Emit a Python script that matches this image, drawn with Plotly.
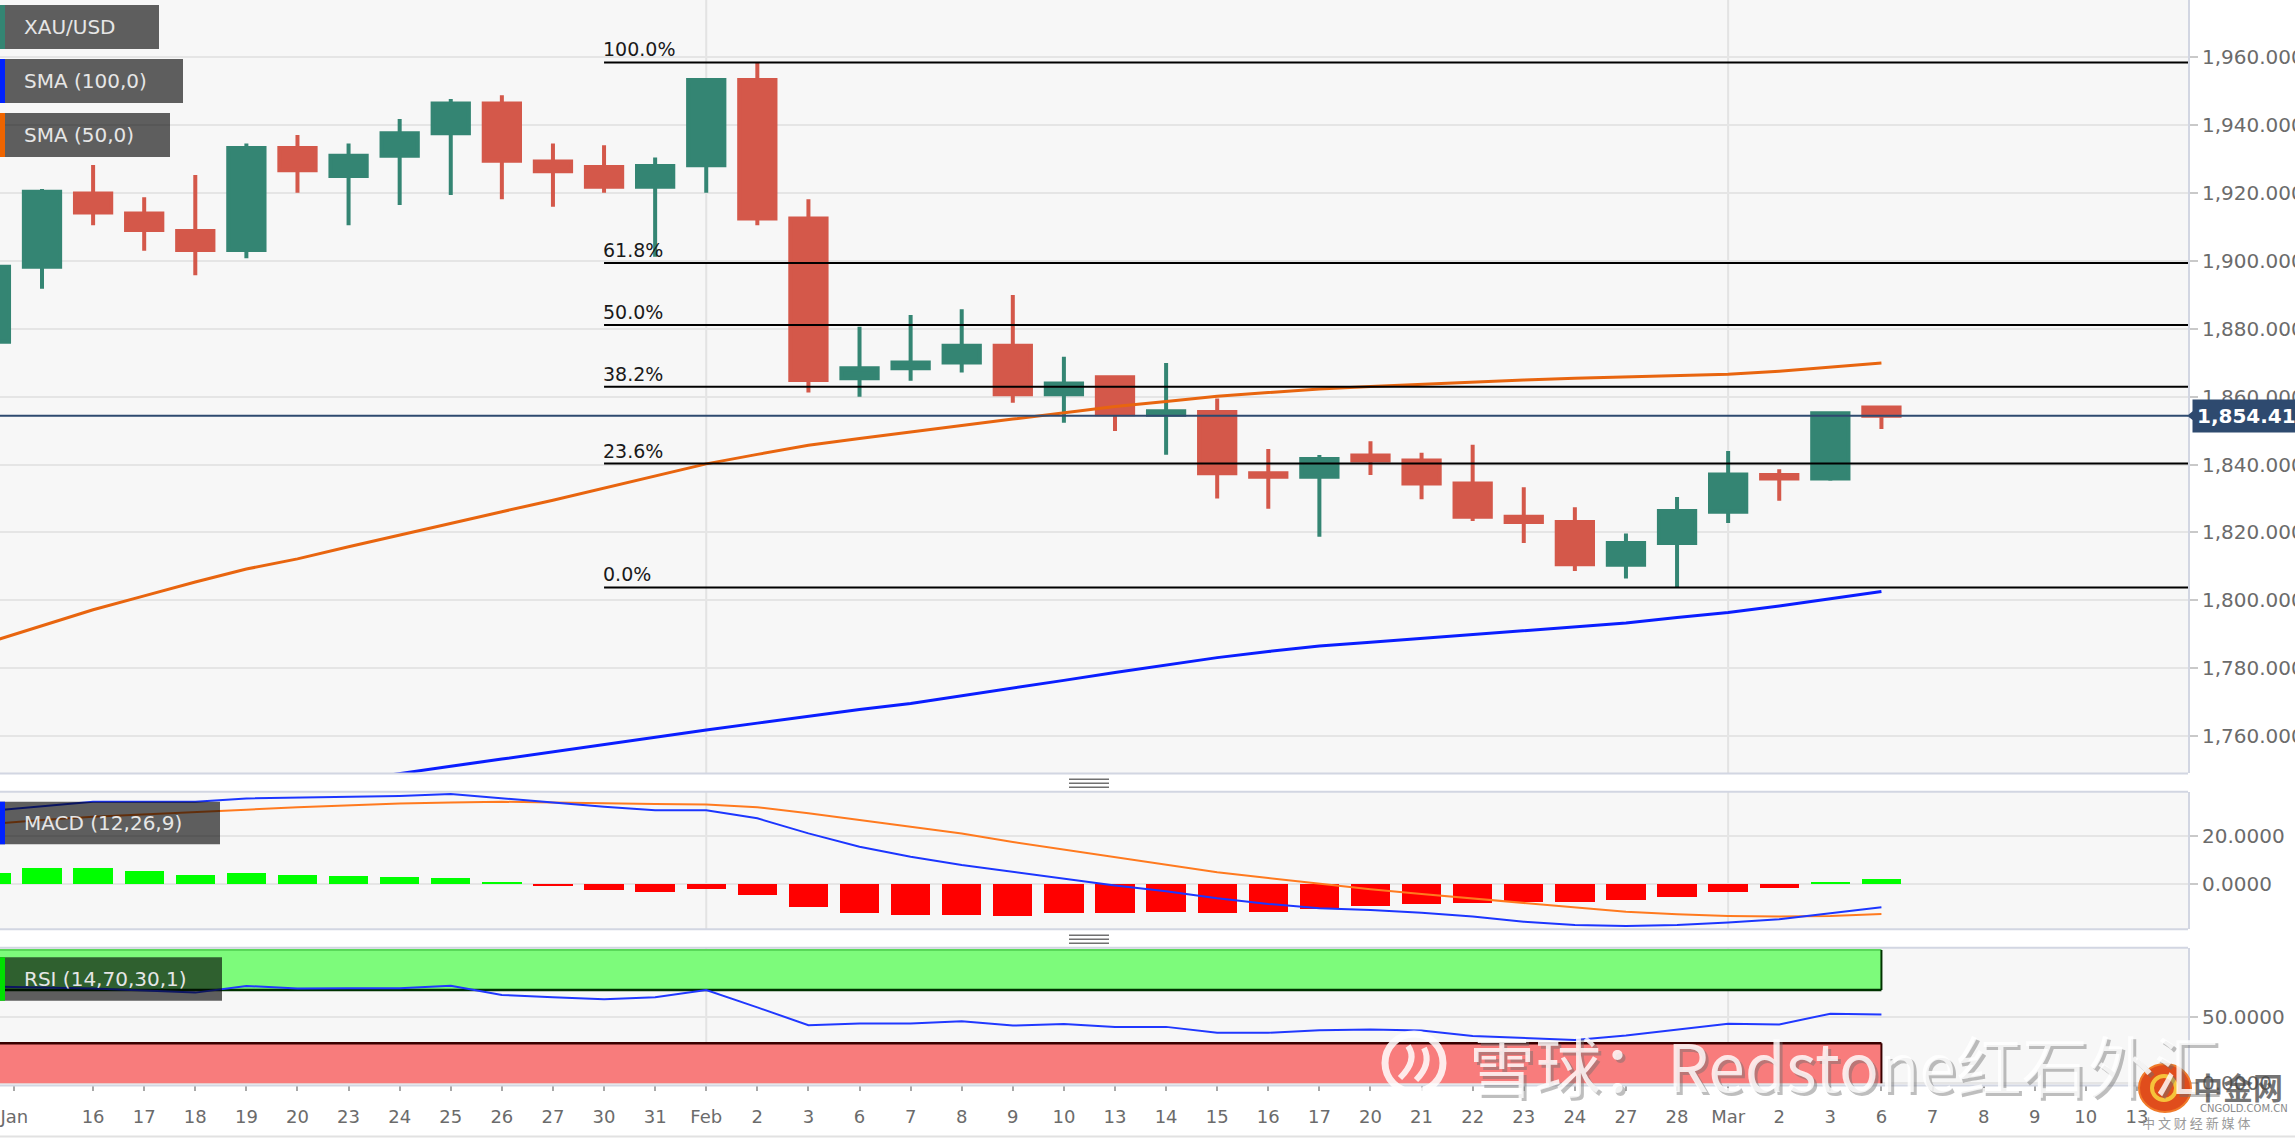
import plotly.graph_objects as go
import numpy as np

W, H = 2295, 1138

# ---------------- data ----------------
sessions = [
    "2023-01-12", "2023-01-13", "2023-01-16", "2023-01-17", "2023-01-18", "2023-01-19", "2023-01-20",
    "2023-01-23", "2023-01-24", "2023-01-25", "2023-01-26", "2023-01-27", "2023-01-30", "2023-01-31",
    "2023-02-01", "2023-02-02", "2023-02-03", "2023-02-06", "2023-02-07", "2023-02-08", "2023-02-09",
    "2023-02-10", "2023-02-13", "2023-02-14", "2023-02-15", "2023-02-16", "2023-02-17", "2023-02-20",
    "2023-02-21", "2023-02-22", "2023-02-23", "2023-02-24", "2023-02-27", "2023-02-28", "2023-03-01",
    "2023-03-02", "2023-03-03", "2023-03-06", "2023-03-07", "2023-03-08", "2023-03-09", "2023-03-10",
    "2023-03-13",
]

open_ = [1876.2, 1898.3, 1919.9, 1914.0, 1908.8, 1903.2, 1933.3, 1925.0, 1931.0, 1937.6,
         1946.4, 1929.3, 1927.7, 1921.9, 1928.2, 1953.3, 1912.5, 1865.4, 1868.4, 1870.1,
         1875.0, 1860.7, 1865.7, 1854.7, 1855.5, 1837.4, 1836.4, 1842.7, 1841.2, 1834.4,
         1824.6, 1823.1, 1810.5, 1816.9, 1826.1, 1836.9, 1835.9, 1856.8]
high = [1901.0, 1921.2, 1928.3, 1918.8, 1925.3, 1934.6, 1937.1, 1934.6, 1941.8, 1947.7,
        1948.8, 1934.6, 1934.1, 1930.5, 1953.5, 1958.5, 1918.2, 1880.6, 1884.1, 1885.8,
        1890.0, 1871.8, 1865.9, 1869.9, 1859.5, 1844.6, 1842.8, 1846.9, 1843.5, 1845.8,
        1833.3, 1827.4, 1819.7, 1830.4, 1844.0, 1838.6, 1855.7, 1857.0]
low = [1867.0, 1891.8, 1910.5, 1903.0, 1895.8, 1900.8, 1920.1, 1910.5, 1916.5, 1919.4,
       1918.2, 1916.0, 1920.1, 1901.2, 1920.1, 1910.5, 1861.2, 1860.0, 1864.7, 1867.1,
       1858.2, 1852.3, 1849.9, 1842.9, 1830.0, 1827.0, 1818.7, 1836.9, 1829.8, 1823.4,
       1816.9, 1808.6, 1806.4, 1803.8, 1822.8, 1829.3, 1835.2, 1850.5]
close = [1898.3, 1920.4, 1914.3, 1909.1, 1903.2, 1933.3, 1926.7, 1931.0, 1937.6, 1946.4,
         1929.5, 1926.4, 1921.9, 1928.0, 1953.3, 1912.5, 1864.9, 1868.4, 1870.1, 1875.0,
         1860.7, 1863.9, 1854.8, 1855.7, 1837.4, 1836.4, 1841.6, 1841.2, 1834.4, 1824.6,
         1823.1, 1810.6, 1816.9, 1826.3, 1837.1, 1835.9, 1855.1, 1854.41]

sma50 = [1787.8, 1792.5, 1797.2, 1801.3, 1805.4, 1809.2, 1812.2, 1815.8, 1819.3, 1822.7,
         1826.1, 1829.5, 1833.0, 1836.6, 1840.2, 1843.0, 1845.7, 1847.7, 1849.7, 1851.5,
         1853.4, 1855.3, 1857.1, 1858.6, 1860.1, 1861.2, 1862.3, 1863.0, 1863.7, 1864.3,
         1864.9, 1865.4, 1865.8, 1866.2, 1866.6, 1867.5, 1868.6, 1869.9]
sma100 = [1731.5, 1733.7, 1735.9, 1738.0, 1740.2, 1742.4, 1744.5, 1746.7, 1748.9, 1751.1,
          1753.2, 1755.4, 1757.5, 1759.7, 1761.8, 1763.8, 1765.9, 1767.8, 1769.6, 1771.8,
          1774.1, 1776.4, 1778.7, 1781.0, 1783.1, 1784.9, 1786.5, 1787.6, 1788.7, 1789.9,
          1791.1, 1792.1, 1793.3, 1794.9, 1796.4, 1798.3, 1800.4, 1802.6]

macd_line = [30.5, 32.4, 34.3, 34.3, 34.3, 35.7, 36.1, 36.4, 36.7, 37.5,
             35.7, 33.9, 32.2, 30.8, 30.8, 27.4, 21.1, 15.5, 11.4, 7.9,
             5.0, 2.1, -0.6, -3.0, -5.9, -8.3, -10.1, -10.8, -12.0, -13.6,
             -15.7, -17.1, -17.5, -17.1, -16.1, -14.7, -12.2, -9.7]
macd_signal = [25.0, 26.7, 28.0, 29.1, 30.1, 31.0, 32.0, 32.8, 33.6, 34.0,
               34.3, 34.0, 33.6, 33.4, 33.2, 32.0, 29.5, 26.7, 23.9, 21.1,
               17.5, 14.3, 11.1, 8.0, 4.9, 2.5, 0.0, -2.2, -4.2, -6.0,
               -7.8, -9.5, -11.6, -12.6, -13.3, -13.6, -13.3, -12.5]
macd_hist = [4.7, 6.8, 6.6, 5.5, 3.8, 4.5, 3.8, 3.4, 2.9, 2.4,
             1.0, -0.9, -2.5, -3.4, -2.1, -4.6, -9.5, -12.0, -12.9, -12.9,
             -13.2, -12.2, -12.2, -11.5, -12.0, -11.5, -10.5, -9.2, -8.3, -8.0,
             -7.4, -7.4, -6.7, -5.3, -3.2, -1.8, 1.0, 2.1]

rsi = [72.5, 71.8, 71.0, 69.5, 68.0, 73.0, 71.0, 71.2, 71.3, 73.2,
       66.3, 64.5, 63.1, 64.6, 70.0, 56.9, 43.6, 44.8, 44.8, 46.5,
       43.3, 44.5, 42.3, 42.3, 37.9, 37.9, 39.8, 40.4, 39.5, 35.4,
       34.2, 32.5, 35.9, 40.4, 44.6, 44.1, 52.2, 51.5]

tick_labels = ["Jan", "16", "17", "18", "19", "20", "23", "24", "25", "26", "27", "30", "31",
               "Feb", "2", "3", "6", "7", "8", "9", "10", "13", "14", "15", "16", "17", "20",
               "21", "22", "23", "24", "27", "28", "Mar", "2", "3", "6", "7", "8", "9", "10", "13"]

main_ticks = [1760, 1780, 1800, 1820, 1840, 1860, 1880, 1900, 1920, 1940, 1960]
macd_ticks = [0, 20]
rsi_ticks = [0, 50]
fib_ratios = [0.0, 0.236, 0.382, 0.5, 0.618, 1.0]
fib_anchor = "2023-01-30"
rsi_upper, rsi_lower = 70, 30

# ---------------- helpers / styles ----------------
def px(x):
    return x / W

def py(y):
    return 1 - y / H

FONT = "DejaVu Sans, Liberation Sans, Arial, sans-serif"
GREEN = "#348573"
RED = "#d4584a"
ORANGE = "#e8650f"
BLUE = "#0a1eff"
NAVY = "#2e4a6f"
BORDER = "#d2d6e2"
GRID = "#e5e5e5"

n = len(close)
xk = np.arange(n)
X_RANGE = [0.178, 43.0]
tickvals = [0.46] + list(range(2, len(sessions)))

fig = go.Figure()

fig.add_trace(go.Candlestick(
    x=xk, open=open_, high=high, low=low, close=close,
    increasing=dict(line=dict(color=GREEN, width=4), fillcolor=GREEN),
    decreasing=dict(line=dict(color=RED, width=4), fillcolor=RED),
    whiskerwidth=0, xaxis="x", yaxis="y", showlegend=False, hoverinfo="skip",
))
fig.add_trace(go.Scatter(x=xk, y=sma50, mode="lines", line=dict(color=ORANGE, width=3),
                         xaxis="x", yaxis="y", showlegend=False, hoverinfo="skip"))
fig.add_trace(go.Scatter(x=xk, y=sma100, mode="lines", line=dict(color=BLUE, width=3),
                         xaxis="x", yaxis="y", showlegend=False, hoverinfo="skip"))

hist_colors = ["#00ff00" if v >= 0 else "#ff0000" for v in macd_hist]
fig.add_trace(go.Bar(x=xk, y=macd_hist, width=0.77, marker=dict(color=hist_colors, line=dict(width=0)),
                     xaxis="x", yaxis="y2", showlegend=False, hoverinfo="skip"))
fig.add_trace(go.Scatter(x=xk, y=macd_signal, mode="lines", line=dict(color="#ff7a1f", width=2),
                         xaxis="x", yaxis="y2", showlegend=False, hoverinfo="skip"))
fig.add_trace(go.Scatter(x=xk, y=macd_line, mode="lines", line=dict(color="#1c36ff", width=2),
                         xaxis="x", yaxis="y2", showlegend=False, hoverinfo="skip"))
fig.add_trace(go.Scatter(x=xk, y=rsi, mode="lines", line=dict(color="#2038ff", width=2),
                         xaxis="x", yaxis="y3", showlegend=False, hoverinfo="skip"))

shapes = []
annotations = []

# Fibonacci retracement
swing_hi, swing_lo = max(high), min(low)
fib_x0 = sessions.index(fib_anchor)
for r in fib_ratios:
    lvl = swing_lo + r * (swing_hi - swing_lo)
    shapes.append(dict(type="line", xref="x", yref="y", x0=fib_x0, x1=X_RANGE[1], y0=lvl, y1=lvl,
                       line=dict(color="#000000", width=2), layer="above"))
    annotations.append(dict(x=fib_x0, y=lvl, xref="x", yref="y", xanchor="left", yanchor="bottom",
                            text=f"{r * 100:.1f}%", showarrow=False, xshift=-3,
                            font=dict(family=FONT, size=19, color="#1a1a1a")))

# current price line + label
last = close[-1]
shapes.append(dict(type="line", xref="x", yref="y", x0=X_RANGE[0], x1=X_RANGE[1], y0=last, y1=last,
                   line=dict(color=NAVY, width=2), layer="above"))
shapes.append(dict(type="path", xref="paper", yref="y",
                   path=f"M {px(2187)},{last} L {px(2194)},{last + 1.6} L {px(2194)},{last - 1.6} Z",
                   fillcolor=NAVY, line=dict(width=0), layer="above"))
annotations.append(dict(x=px(2192), y=last, xref="paper", yref="y", xanchor="left", yanchor="middle",
                        text=f"<b>{last:,.3f}</b>", showarrow=False, bgcolor=NAVY, borderpad=4,
                        font=dict(family=FONT, size=20, color="#ffffff")))

# month gridlines in each panel
panels = [(0, 773), (791.7, 929.3), (947.7, 1085)]
for m in ["2023-02-01", "2023-03-01"]:
    mk = sessions.index(m)
    for (t, b) in panels:
        shapes.append(dict(type="line", xref="x", yref="paper", x0=mk, x1=mk, y0=py(b), y1=py(t),
                           line=dict(color="#e3e3e3", width=2), layer="below"))

# RSI zones
shapes.append(dict(type="rect", xref="x", yref="y3", x0=X_RANGE[0], x1=n - 1, y0=rsi_upper, y1=100,
                   fillcolor="#7dfb7b", line=dict(width=0), layer="between"))
shapes.append(dict(type="rect", xref="x", yref="y3", x0=X_RANGE[0], x1=n - 1, y0=0, y1=rsi_lower,
                   fillcolor="#f87c7c", line=dict(width=0), layer="between"))
shapes.append(dict(type="line", xref="x", yref="y3", x0=X_RANGE[0], x1=n - 1, y0=100, y1=100,
                   line=dict(color="#5ad85a", width=2), layer="between"))
shapes.append(dict(type="line", xref="x", yref="y3", x0=X_RANGE[0], x1=n - 1, y0=rsi_upper, y1=rsi_upper,
                   line=dict(color="#003300", width=2.5), layer="between"))
shapes.append(dict(type="line", xref="x", yref="y3", x0=n - 1, x1=n - 1, y0=rsi_upper, y1=100,
                   line=dict(color="#003300", width=2), layer="between"))
shapes.append(dict(type="line", xref="x", yref="y3", x0=X_RANGE[0], x1=n - 1, y0=rsi_lower, y1=rsi_lower,
                   line=dict(color="#3a0000", width=2.5), layer="between"))
shapes.append(dict(type="line", xref="x", yref="y3", x0=n - 1, x1=n - 1, y0=0, y1=rsi_lower,
                   line=dict(color="#3a0000", width=2), layer="between"))

# panel borders
for yy in [773.5, 791.7, 929.3, 947.7, 1085.5]:
    shapes.append(dict(type="line", xref="paper", yref="paper", x0=0, x1=px(2188), y0=py(yy), y1=py(yy),
                       line=dict(color=BORDER, width=2), layer="above"))
shapes.append(dict(type="line", xref="paper", yref="paper", x0=0, x1=1, y0=py(1136.5), y1=py(1136.5),
                   line=dict(color="#e2e2e2", width=2)))

# drag handles
for yy in [779.3, 783.3, 787.3, 935.3, 939.3, 943.3]:
    shapes.append(dict(type="line", xref="paper", yref="paper", x0=px(1069), x1=px(1109), y0=py(yy), y1=py(yy),
                       line=dict(color="#707070", width=1.5)))

# legend / indicator label boxes
boxes = [
    ("XAU/USD", 5, 49, 159, GREEN),
    ("SMA (100,0)", 59, 103, 183, "#0022ff"),
    ("SMA (50,0)", 113, 157, 170, "#ee6400"),
    ("MACD (12,26,9)", 801.7, 844.3, 220, "#0022ff"),
    ("RSI (14,70,30,1)", 957.3, 1000.7, 222, "#00e000"),
]
for (txt, t, b, r, col) in boxes:
    shapes.append(dict(type="rect", xref="paper", yref="paper", x0=0, x1=px(r), y0=py(b), y1=py(t),
                       fillcolor="rgba(0,0,0,0.62)", line=dict(width=0), layer="above"))
    shapes.append(dict(type="rect", xref="paper", yref="paper", x0=0, x1=px(5), y0=py(b), y1=py(t),
                       fillcolor=col, line=dict(width=0), layer="above"))
    annotations.append(dict(x=px(22), y=py((t + b) / 2), xref="paper", yref="paper", xanchor="left",
                            yanchor="middle", text=txt, showarrow=False,
                            font=dict(family=FONT, size=20, color="#e6e6e6")))

# watermarks
wm = "雪球：Redstone红石外汇"
annotations.append(dict(x=px(1470), y=py(1066), xref="paper", yref="paper", xanchor="left", yanchor="middle",
                        text=wm, showarrow=False,
                        font=dict(family="Noto Sans CJK SC", size=66, color="rgba(110,110,110,0.45)")))
annotations.append(dict(x=px(1467), y=py(1063), xref="paper", yref="paper", xanchor="left", yanchor="middle",
                        text=wm, showarrow=False,
                        font=dict(family="Noto Sans CJK SC", size=66, color="rgba(255,255,255,0.82)")))
shapes.append(dict(type="circle", xref="paper", yref="paper", x0=px(1385), x1=px(1443), y0=py(1092), y1=py(1034),
                   line=dict(color="rgba(255,255,255,0.85)", width=7), layer="above"))
shapes.append(dict(type="path", xref="paper", yref="paper",
                   path=(f"M {px(1400)},{py(1078)} Q {px(1418)},{py(1060)} {px(1408)},{py(1046)} "
                         f"M {px(1416)},{py(1080)} Q {px(1432)},{py(1064)} {px(1424)},{py(1048)}"),
                   line=dict(color="rgba(255,255,255,0.85)", width=6), layer="above"))
shapes.append(dict(type="circle", xref="paper", yref="paper", x0=px(2139), x1=px(2191), y0=py(1112), y1=py(1064),
                   fillcolor="#e04d1c", line=dict(color="#f07a2a", width=2), layer="above"))
shapes.append(dict(type="circle", xref="paper", yref="paper", x0=px(2152), x1=px(2176), y0=py(1100), y1=py(1076),
                   fillcolor="rgba(0,0,0,0)", line=dict(color="#f6c23a", width=4), layer="above"))
annotations.append(dict(x=px(2191), y=py(1086), xref="paper", yref="paper", xanchor="left", yanchor="middle",
                        text="<b>中金网</b>", showarrow=False,
                        font=dict(family="Noto Sans CJK SC", size=30, color="rgba(70,70,70,0.75)")))
annotations.append(dict(x=px(2198), y=py(1108), xref="paper", yref="paper", xanchor="left", yanchor="middle",
                        text="CNGOLD.COM.CN", showarrow=False,
                        font=dict(family=FONT, size=10, color="#8a8a8a")))
annotations.append(dict(x=px(2140), y=py(1122), xref="paper", yref="paper", xanchor="left", yanchor="middle",
                        text="中 文 财 经 新 媒 体", showarrow=False,
                        font=dict(family="Noto Sans CJK SC", size=13, color="#9a9a9a")))

yaxis_common = dict(side="right", anchor="x", showline=True, linecolor=BORDER, linewidth=2,
                    ticks="outside", ticklen=8, tickwidth=2, tickcolor="#c9c9c9",
                    tickfont=dict(family=FONT, size=20, color="#6b6b6b"), ticklabeloverflow="allow",
                    automargin=False,
                    showgrid=True, gridcolor=GRID, gridwidth=2, zeroline=False, fixedrange=True)

fig.update_layout(
    width=W, height=H, margin=dict(l=0, r=0, t=0, b=0, autoexpand=False),
    paper_bgcolor="#ffffff", plot_bgcolor="#f7f7f7",
    showlegend=False, hovermode=False, boxgap=0.29, boxgroupgap=0, bargap=0,
    xaxis=dict(domain=[0, px(2188)], range=X_RANGE, anchor="y3", tickmode="array",
               tickvals=tickvals, ticktext=tick_labels, ticks="outside", ticklen=5, tickwidth=2,
               tickcolor="#a8a8a8", tickfont=dict(family=FONT, size=18, color="#6b6b6b"),
               ticklabelstandoff=10, ticklabeloverflow="allow", automargin=False, showgrid=False,
               zeroline=False, showline=False, rangeslider=dict(visible=False), fixedrange=True),
    yaxis=dict(domain=[py(773), 1], range=[1749.1, 1976.9], tickvals=main_ticks,
               tickformat=",.3f", **yaxis_common),
    yaxis2=dict(domain=[py(929.3), py(791.7)], range=[-18.9, 38.5], tickvals=macd_ticks,
                tickformat=".4f", **yaxis_common),
    yaxis3=dict(domain=[py(1085), py(947.7)], range=[-1.3, 101.7], tickvals=rsi_ticks,
                tickformat=".4f", **yaxis_common),
    shapes=shapes, annotations=annotations,
)

fig.write_html("out.html", config={"displayModeBar": False, "staticPlot": True},
               post_script="document.body.style.margin='0px';document.body.style.overflow='hidden';")
